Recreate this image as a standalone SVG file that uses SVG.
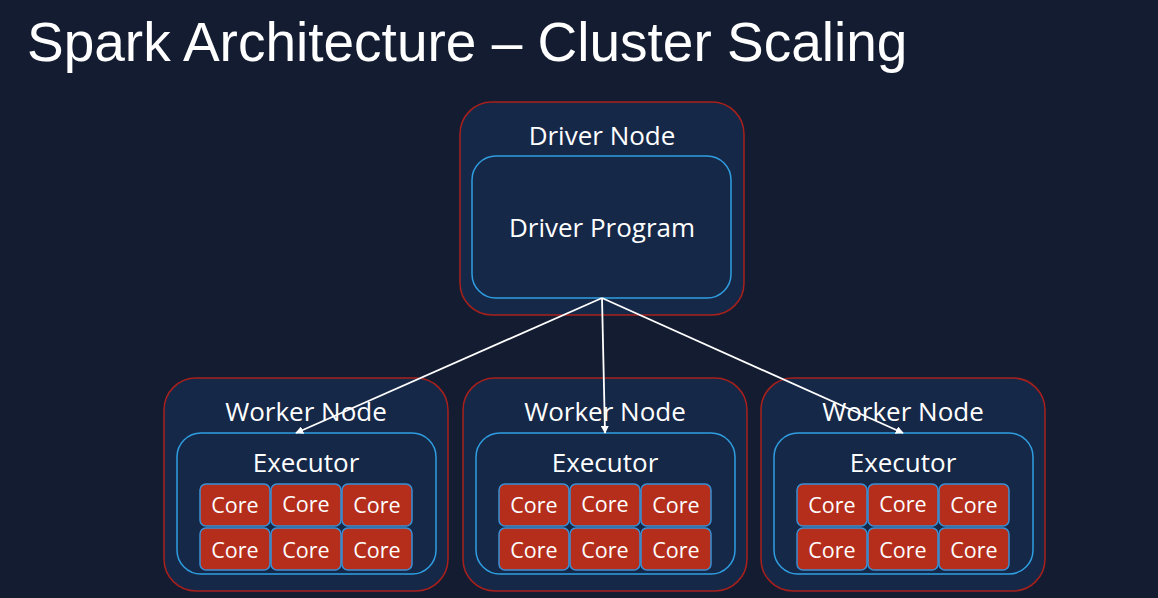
<svg xmlns="http://www.w3.org/2000/svg" width="1158" height="598" viewBox="0 0 1158 598">
<style>
.outer{fill:#162848;stroke:#a8201c;stroke-width:1.5}
.inner{fill:#162848;stroke:#2f9ee0;stroke-width:1.5}
.core{fill:#b52e1c;stroke:#3a90d4;stroke-width:1.5}
.lbl{font-family:"Open Sans","Liberation Sans",sans-serif;fill:#ffffff;text-anchor:middle}
.big{font-size:26px}
.sm{font-size:21.5px}
.conn{stroke:#ffffff;stroke-width:1.8;fill:none;marker-end:url(#ah)}
</style>
<defs>
<marker id="ah" viewBox="0 0 10 10" refX="9" refY="5" markerWidth="8" markerHeight="8" orient="auto" markerUnits="userSpaceOnUse">
<path d="M0,0 L10,5 L0,10 z" fill="#ffffff"/>
</marker>
<g id="cores">
<rect class="core" x="0" y="0" width="70" height="42" rx="6"/>
<rect class="core" x="71" y="0" width="70" height="42" rx="6"/>
<rect class="core" x="142" y="0" width="70" height="42" rx="6"/>
<rect class="core" x="0" y="44" width="70" height="42" rx="6"/>
<rect class="core" x="71" y="44" width="70" height="42" rx="6"/>
<rect class="core" x="142" y="44" width="70" height="42" rx="6"/>
<text class="lbl sm" x="35" y="29">Core</text>
<text class="lbl sm" x="106" y="28">Core</text>
<text class="lbl sm" x="177" y="29">Core</text>
<text class="lbl sm" x="35" y="74">Core</text>
<text class="lbl sm" x="106" y="74">Core</text>
<text class="lbl sm" x="177" y="74">Core</text>
</g>
</defs>
<rect width="1158" height="598" fill="#131c30"/>
<text x="27" y="61" font-family="'Liberation Sans', Arial, sans-serif" font-size="55" fill="#ffffff">Spark Architecture – Cluster Scaling</text>

<g id="driver-node">
<rect class="outer" x="460" y="102" width="284" height="213" rx="32"/>
<text class="lbl big" x="602" y="145">Driver Node</text>
<g id="driver-program">
<rect class="inner" x="472" y="156" width="259" height="142" rx="24"/>
<text class="lbl big" x="602" y="237">Driver Program</text>
</g>
</g>

<g id="worker-1">
<rect class="outer" x="164" y="378" width="284" height="213" rx="32"/>
<text class="lbl big" x="306" y="421">Worker Node</text>
<g id="executor-1">
<rect class="inner" x="177" y="433" width="259" height="141" rx="24"/>
<text class="lbl big" x="306" y="472">Executor</text>
<use href="#cores" x="200" y="484"/>
</g>
</g>

<g id="worker-2">
<rect class="outer" x="463" y="378" width="284" height="213" rx="32"/>
<text class="lbl big" x="605" y="421">Worker Node</text>
<g id="executor-2">
<rect class="inner" x="476" y="433" width="259" height="141" rx="24"/>
<text class="lbl big" x="605" y="472">Executor</text>
<use href="#cores" x="499" y="484"/>
</g>
</g>

<g id="worker-3">
<rect class="outer" x="761" y="378" width="284" height="213" rx="32"/>
<text class="lbl big" x="903" y="421">Worker Node</text>
<g id="executor-3">
<rect class="inner" x="774" y="433" width="259" height="141" rx="24"/>
<text class="lbl big" x="903" y="472">Executor</text>
<use href="#cores" x="797" y="484"/>
</g>
</g>

<g id="connectors">
<line class="conn" x1="602" y1="298" x2="296" y2="433"/>
<line class="conn" x1="602" y1="298" x2="605" y2="433"/>
<line class="conn" x1="602" y1="298" x2="903" y2="433"/>
</g>
</svg>
